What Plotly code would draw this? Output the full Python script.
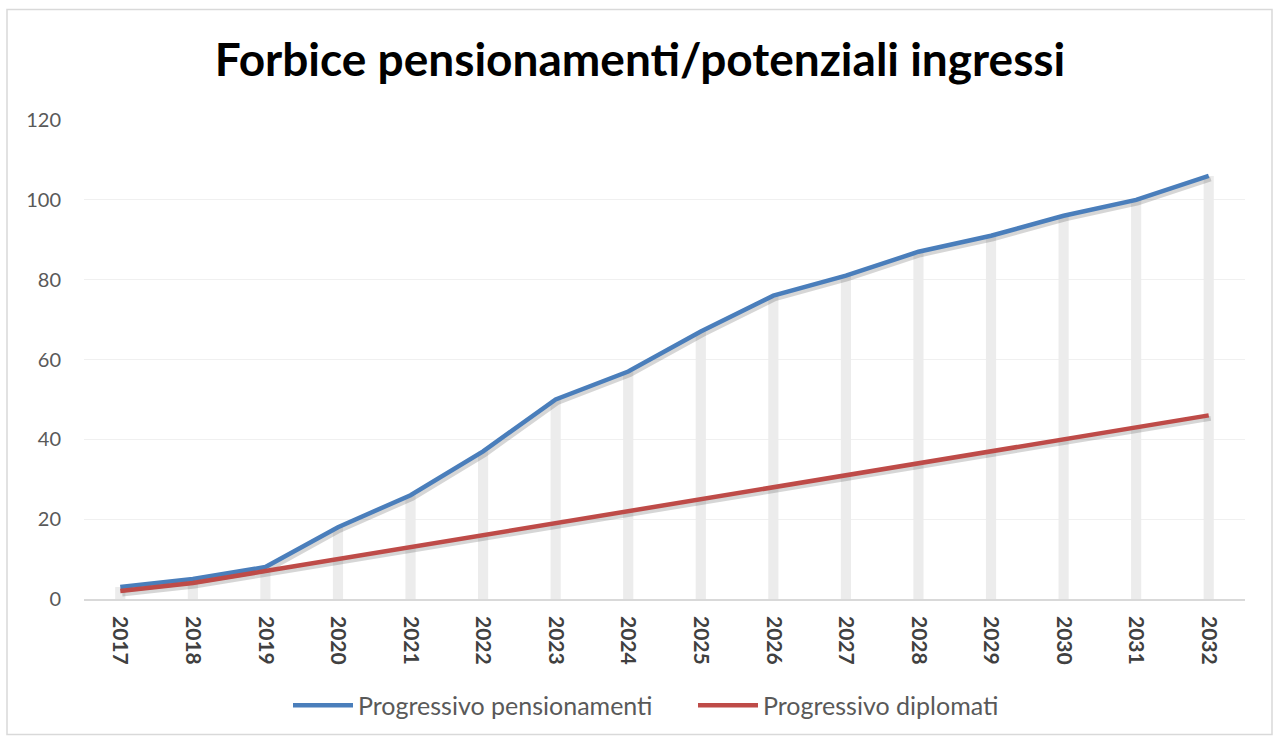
import plotly.graph_objects as go

years = [str(y) for y in range(2017, 2033)]
pensionamenti = [3, 5, 8, 18, 26, 37, 50, 57, 67, 76, 81, 87, 91, 96, 100, 106]
diplomati = [2, 4, 7, 10, 13, 16, 19, 22, 25, 28, 31, 34, 37, 40, 43, 46]
y_ticks = [0, 20, 40, 60, 80, 100, 120]

W, H = 1276, 740
SX, SY = 2, 3  # shadow offset in px
L, T = 84, 120
R = W - 1245 - SX
B = H - 601 - SY
pw, ph = W - L - R, H - T - B
dx, dy = SX / pw, SY / ph

def py(p):
    return (H - B - p) / ph

def px(p):
    return (p - L) / pw

BLUE = "#4a7ebb"
RED = "#be4b48"
SHADOW = "rgba(0,0,0,0.16)"
FONT = "Lato, Open Sans, sans-serif"

fig = go.Figure()

# drop lines (light grey columns) on the main axes
fig.add_trace(go.Bar(x=years, y=pensionamenti, width=0.14,
                     marker=dict(color="#ececec", line=dict(width=0)),
                     showlegend=False, hoverinfo="skip"))

# shadows on offset axes x2/y2
for vals in (pensionamenti, diplomati):
    fig.add_trace(go.Scatter(x=years, y=vals, mode="lines", xaxis="x2", yaxis="y2",
                             line=dict(color=SHADOW, width=5),
                             showlegend=False, hoverinfo="skip"))

# real lines on x3/y3 (same domain as main) so they draw above the shadows
fig.add_trace(go.Scatter(x=years, y=pensionamenti, mode="lines", xaxis="x3", yaxis="y3",
                         name="Progressivo pensionamenti",
                         line=dict(color=BLUE, width=4.5)))
fig.add_trace(go.Scatter(x=years, y=diplomati, mode="lines", xaxis="x3", yaxis="y3",
                         name="Progressivo diplomati",
                         line=dict(color=RED, width=4.5)))

fig.update_layout(
    width=W, height=H,
    margin=dict(l=L, r=R, t=T, b=B),
    paper_bgcolor="white", plot_bgcolor="rgba(0,0,0,0)",
    title=dict(text="<b>Forbice pensionamenti/potenziali ingressi</b>",
               x=640 / W, xref="container", xanchor="center", y=1 - 60 / H, yanchor="middle",
               font=dict(family=FONT, size=46, color="black")),
    xaxis=dict(type="category", range=[-0.5, 15.5], tickangle=90, domain=[0, 1 - dx],
               tickfont=dict(family=FONT, size=21, color="#404040", weight="bold"),
               showgrid=False, showline=True, linecolor="#d9d9d9", linewidth=1.5,
               ticks="", ticklabelstandoff=11, fixedrange=True),
    yaxis=dict(range=[0, 120], tickvals=y_ticks, showgrid=True, gridcolor="#f0f0f0",
               gridwidth=1, zeroline=False, showline=False, domain=[dy, 1],
               tickfont=dict(family=FONT, size=20, color="#595959"),
               ticklabelstandoff=22),
    xaxis2=dict(type="category", range=[-0.5, 15.5], domain=[dx, 1], anchor="y2",
                visible=False),
    yaxis2=dict(range=[0, 120], domain=[0, 1 - dy], anchor="x2", visible=False),
    xaxis3=dict(type="category", range=[-0.5, 15.5], domain=[0, 1 - dx], anchor="y3",
                visible=False),
    yaxis3=dict(range=[0, 120], domain=[dy, 1], anchor="x3", visible=False),
    legend=dict(orientation="h", x=px(288), xanchor="left", y=py(708), yanchor="middle",
                font=dict(family=FONT, size=25, color="#595959"),
                itemwidth=60, entrywidth=330, entrywidthmode="pixels"),
    barmode="overlay",
    showlegend=True,
)

# outer border
fig.add_shape(type="rect", xref="paper", yref="paper",
              x0=px(7), x1=px(1272), y0=py(737), y1=py(9),
              line=dict(color="#d9d9d9", width=1.5), fillcolor="rgba(0,0,0,0)", layer="below")

fig.write_html("out.html", config={"displayModeBar": False},
               post_script="document.body.style.margin='0';document.body.style.padding='0';")
